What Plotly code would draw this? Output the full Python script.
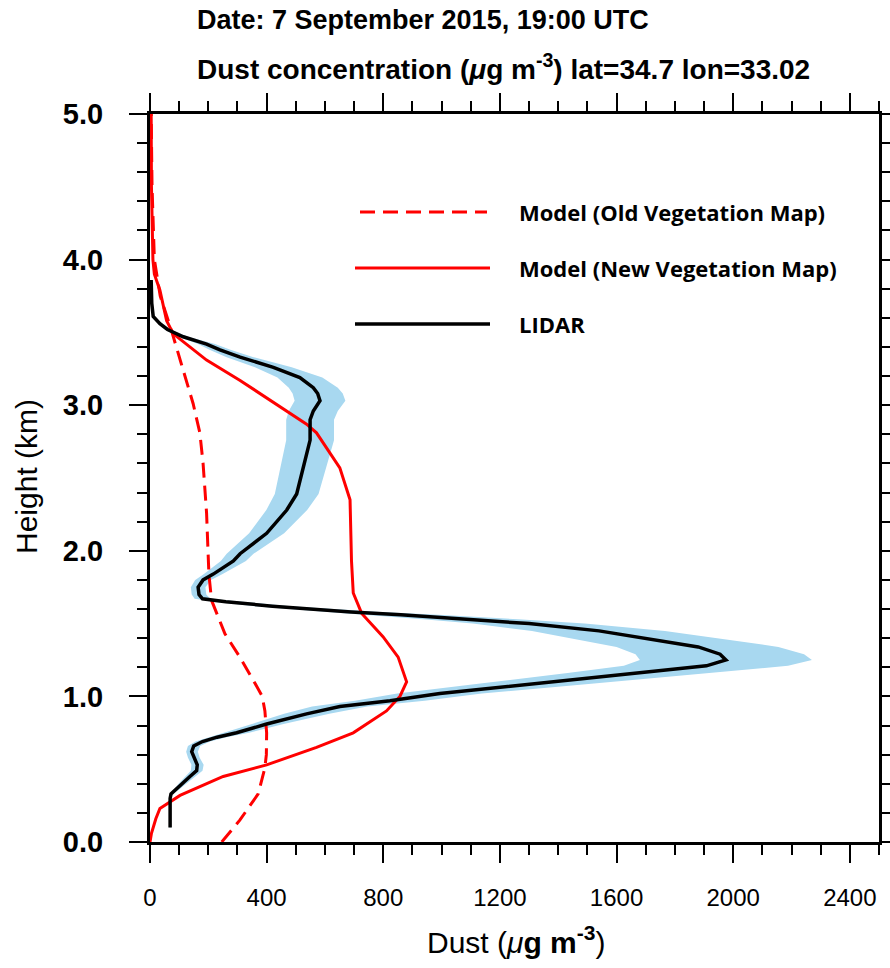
import plotly.graph_objects as go

# ---------------- data ----------------
lidar_h = [0.10, 0.30, 0.33, 0.36, 0.40, 0.45, 0.49, 0.53, 0.58, 0.62, 0.66, 0.69, 0.72, 0.75,
           0.81, 0.88, 0.93, 0.97, 1.02, 1.09, 1.16, 1.21, 1.25, 1.29, 1.34, 1.40, 1.45, 1.50,
           1.53, 1.56, 1.58, 1.62, 1.65, 1.67, 1.70, 1.75, 1.80, 1.84, 1.93, 1.98, 2.12, 2.28,
           2.39, 2.57, 2.76, 2.90, 2.96, 3.03, 3.08, 3.12, 3.19, 3.26, 3.33, 3.38, 3.42, 3.47,
           3.52, 3.56, 3.61, 3.70, 3.86]
lidar_v = [69, 69, 72, 90, 110, 137, 160, 162, 150, 143, 150, 180, 230, 297,
           400, 537, 651, 823, 994, 1337, 1680, 1908, 1975, 1955, 1880, 1700, 1540, 1300,
           1100, 860, 690, 420, 260, 180, 168, 165, 182, 217, 286, 309, 400, 469,
           503, 526, 549, 549, 560, 583, 575, 560, 514, 423, 309, 240, 194, 114,
           60, 34, 11, 6, 4]
lidar_lo = [66, 66, 68, 82, 98, 120, 140, 142, 130, 124, 130, 156, 198, 255,
            345, 460, 556, 703, 848, 1140, 1432, 1625, 1680, 1665, 1600, 1448, 1310, 1107,
            937, 732, 588, 358, 222, 153, 143, 140, 155, 185, 243, 263, 340, 399,
            428, 447, 467, 467, 476, 496, 489, 476, 437, 360, 263, 204, 165, 97,
            51, 29, 9, 5, 3]
lidar_hi = [72, 72, 78, 100, 124, 155, 180, 184, 170, 164, 172, 206, 262, 340,
            458, 615, 745, 942, 1138, 1532, 1926, 2188, 2270, 2243, 2155, 1950, 1766, 1491,
            1262, 987, 792, 482, 298, 207, 193, 190, 209, 249, 329, 355, 460, 539,
            578, 605, 631, 631, 644, 670, 661, 644, 591, 486, 355, 276, 223, 131,
            69, 39, 13, 7, 5]

old_h = [0.00, 0.15, 0.33, 0.51, 0.60, 0.75, 0.90, 1.00, 1.09, 1.27, 1.43, 1.66, 1.84,
         2.26, 2.60, 2.81, 3.01, 3.51, 3.75, 4.00, 4.50, 5.00]
old_v = [246, 308, 371, 394, 399, 400, 394, 385, 360, 308, 257, 211, 202,
         194, 182, 171, 148, 74, 35, 15, 7, 4]

new_h = [0.00, 0.06, 0.16, 0.23, 0.32, 0.45, 0.53, 0.65, 0.75, 0.90, 1.00, 1.10, 1.27,
         1.41, 1.57, 1.71, 1.93, 2.35, 2.57, 2.81, 2.87, 2.99, 3.17, 3.31, 3.49, 3.58,
         3.79, 3.90, 4.00, 4.50, 5.00]
new_v = [0, 5, 20, 34, 103, 251, 400, 571, 697, 811, 857, 880, 851,
         799, 726, 697, 691, 686, 651, 571, 537, 446, 309, 194, 80, 57,
         34, 15, 10, 5, 4]

legend_labels = ["Model (Old Vegetation Map)", "Model (New Vegetation Map)", "LIDAR"]

RED = "#ff0000"
BLUE = "rgb(168,216,240)"
FONT = "Liberation Sans, Arial, Helvetica, sans-serif"

fig = go.Figure()

# uncertainty band of LIDAR
fig.add_trace(go.Scatter(
    x=lidar_hi + lidar_lo[::-1], y=lidar_h + lidar_h[::-1],
    fill="toself", fillcolor=BLUE, line=dict(width=0), mode="lines",
    hoverinfo="skip", showlegend=False))

fig.add_trace(go.Scatter(x=old_v, y=old_h, mode="lines", name=legend_labels[0],
                         line=dict(color=RED, width=3, dash="15px,8px"), showlegend=False))
fig.add_trace(go.Scatter(x=new_v, y=new_h, mode="lines", name=legend_labels[1],
                         line=dict(color=RED, width=3), showlegend=False))
fig.add_trace(go.Scatter(x=lidar_v, y=lidar_h, mode="lines", name=legend_labels[2],
                         line=dict(color="black", width=3.5), showlegend=False))

W, H = 890, 968
L, R, T, B = 150, 11, 114, 126
pw, ph = W - L - R, H - T - B


def px(x):
    return (x - L) / pw


def py(y):
    return (H - B - y) / ph


# manual legend
legend_y = [212, 268, 324]
legend_style = [dict(color=RED, width=3, dash="15px,8px"),
                dict(color=RED, width=3),
                dict(color="black", width=3.5)]
for i, (lab, yy, st) in enumerate(zip(legend_labels, legend_y, legend_style)):
    x0, x1 = (360, 487) if i == 0 else (355, 490)
    fig.add_shape(type="line", xref="paper", yref="paper",
                  x0=px(x0), x1=px(x1), y0=py(yy), y1=py(yy), line=st)
    fig.add_annotation(xref="paper", yref="paper", x=px(517), y=py(yy),
                       text=f"<b>{lab}</b>", showarrow=False, xanchor="left", yanchor="middle",
                       font=dict(family="Open Sans, Lato, sans-serif", size=22, color="black"))

# titles
fig.add_annotation(xref="paper", yref="paper", x=px(195), y=py(20),
                   text="<b>Date: 7 September 2015, 19:00 UTC</b>", showarrow=False,
                   xanchor="left", yanchor="middle", font=dict(family=FONT, size=27, color="black"))
fig.add_annotation(xref="paper", yref="paper", x=px(195), y=py(67),
                   text="<b>Dust concentration (<i>μ</i>g m<sup>-3</sup>) lat=34.7 lon=33.02</b>",
                   showarrow=False, xanchor="left", yanchor="middle",
                   font=dict(family=FONT, size=28, color="black"))
fig.add_annotation(xref="paper", yref="paper", x=px(516), y=py(940),
                   text="Dust (<i>μ</i><b>g m</b><sup><b>-3</b></sup>)", showarrow=False,
                   xanchor="center", yanchor="middle", font=dict(family=FONT, size=30, color="black"))
fig.add_annotation(xref="paper", yref="paper", x=px(26), y=py(477),
                   text="Height (km)", textangle=-90, showarrow=False,
                   xanchor="center", yanchor="middle", font=dict(family=FONT, size=30, color="black"))

fig.update_xaxes(range=[0, 2500], tickvals=[0, 400, 800, 1200, 1600, 2000, 2400],
                 ticks="outside", ticklen=18, tickwidth=2, tickcolor="black",
                 minor=dict(dtick=100, tick0=0, ticks="outside", ticklen=10, tickwidth=2, tickcolor="black"),
                 showline=True, linecolor="black", linewidth=3, mirror="ticks",
                 showgrid=False, zeroline=False, ticklabelstandoff=14, automargin=False,
                 tickfont=dict(family=FONT, size=24, color="black"))
fig.update_yaxes(range=[0, 5], tickvals=[0, 1, 2, 3, 4, 5], tickformat=".1f",
                 ticks="outside", ticklen=18, tickwidth=2, tickcolor="black",
                 minor=dict(dtick=0.2, tick0=0, ticks="outside", ticklen=10, tickwidth=2, tickcolor="black"),
                 showline=True, linecolor="black", linewidth=3, mirror="ticks",
                 showgrid=False, zeroline=False, ticklabelstandoff=20, automargin=False,
                 tickfont=dict(family=FONT, size=29, color="black", weight="bold"))

fig.update_layout(width=W, height=H, autosize=False,
                  margin=dict(l=L, r=R, t=T, b=B, pad=0, autoexpand=False),
                  paper_bgcolor="white", plot_bgcolor="white", showlegend=False)

fig.write_html("out.html")
